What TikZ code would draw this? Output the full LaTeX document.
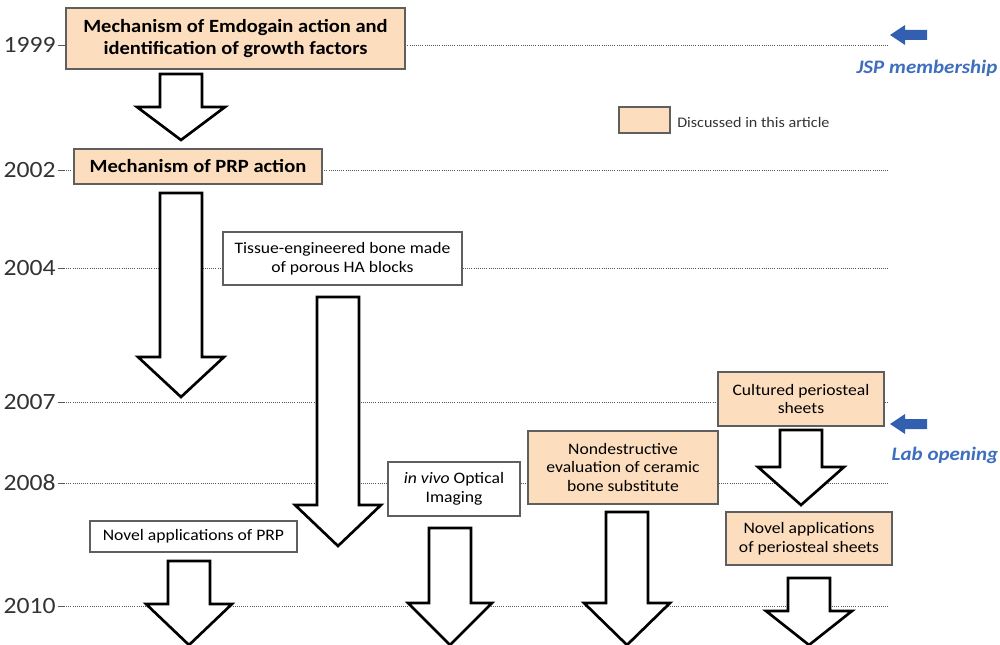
\documentclass[tikz,border=0pt]{standalone}
\usepackage{fontspec}
\setmainfont{Carlito}[FakeStretch=1.1]
\definecolor{peach}{RGB}{252,222,190}
\definecolor{bordergray}{RGB}{95,95,95}
\definecolor{linegray}{RGB}{90,90,90}
\definecolor{notebluetext}{RGB}{62,110,190}
\definecolor{notebluearr}{RGB}{50,95,175}
\tikzset{
  wh/.style 2 args={minimum width=#1*0.75pt, minimum height=#2*0.75pt},
  evbox/.style={draw=bordergray, line width=1pt, inner sep=0pt, align=center, font=\fontsize{12}{14}\selectfont},
  discussed/.style={evbox, fill=peach},
  plainbox/.style={evbox, fill=white},
  boldtxt/.style={font=\fontsize{14}{17}\bfseries\selectfont},
  blockarr/.style={draw=black, line width=2pt, fill=white, line join=miter},
  yearlbl/.style={anchor=east, inner sep=0pt, font=\fontsize{17.5}{20}\selectfont, text=black!80},
  timeline/.style={draw=linegray, line width=0.6pt, densely dotted},
  tickline/.style={draw=linegray, line width=0.6pt},
  notearr/.style={fill=notebluearr, draw=none},
  notetxt/.style={text=notebluetext, font=\fontsize{14.3}{17}\bfseries\itshape\selectfont, inner sep=0pt}
}
\newcommand\dnarrow[6]{%
  \draw[blockarr] ({#1-#5},#2) -- ({#1+#5},#2) -- ({#1+#5},#3) -- ({#1+#6},#3) -- (#1,#4) -- ({#1-#6},#3) -- ({#1-#5},#3) -- cycle;}
\newcommand\leftnote[2]{%
  \fill[notearr] (890,#2) -- (905,{#2-10}) -- (905,{#2-5}) -- (927,{#2-5}) -- (927,{#2+5}) -- (905,{#2+5}) -- (905,{#2+10}) -- cycle;}
\begin{document}
\begin{tikzpicture}[x=0.75pt,y=-0.75pt]
\useasboundingbox (0,0) rectangle (1000,645);
% timelines
\foreach \yy/\lbl in {45/1999,170/2002,268/2004,402/2007,483/2008,606/2010}{
  \node[yearlbl] (y\lbl) at (56,\yy) {\lbl};
  \draw[tickline] (58,\yy) -- (64,\yy);
  \draw[timeline] (64,\yy) -- (888,\yy);
}
% boxes
\node[discussed, wh={339}{61}, boldtxt] (emd) at (235.5,38.5) {Mechanism of Emdogain action and\\identification of growth factors};
\node[discussed, wh={248}{35}, boldtxt] (prp) at (198,166.5) {Mechanism of PRP action};
\node[plainbox, wh={239}{53}] (ha) at (342.5,258.5) {Tissue-engineered bone made\\of porous HA blocks};
\node[plainbox, wh={132}{54}] (vivo) at (454,489) {\textit{in vivo} Optical\\Imaging};
\node[discussed, wh={190}{73}] (ndt) at (623,467.5) {Nondestructive\\evaluation of ceramic\\bone substitute};
\node[discussed, wh={166}{54}] (cps) at (801,399) {Cultured periosteal\\sheets};
\node[discussed, wh={166}{53}] (nps) at (809,538.5) {Novel applications\\of periosteal sheets};
\node[plainbox, wh={207}{31}] (nprp) at (193.5,536.5) {Novel applications of PRP};
% legend
\node[discussed, wh={51}{26}] (leg) at (644.5,120) {};
\node[anchor=west, inner sep=0pt, font=\fontsize{11}{13}\selectfont, text=black!80] (legtxt) at (677,122) {Discussed in this article};
% block arrows
\dnarrow{181}{74}{107}{140}{21}{44}
\dnarrow{181}{193}{357}{397}{21}{43}
\dnarrow{338}{297}{505}{546}{21}{43}
\dnarrow{189}{561}{604}{645}{21}{43}
\dnarrow{450}{528}{603}{645}{21}{42}
\dnarrow{627}{512}{603}{645}{21}{43}
\dnarrow{801}{430}{467}{505}{21}{43}
\dnarrow{809}{578}{611}{645}{21}{43}
% notes
\leftnote{jsp}{35}
\node[notetxt] (jsptxt) at (927,68) {JSP membership};
\leftnote{lab}{424}
\node[notetxt] (labtxt) at (945,455) {Lab opening};
\end{tikzpicture}
\end{document}
